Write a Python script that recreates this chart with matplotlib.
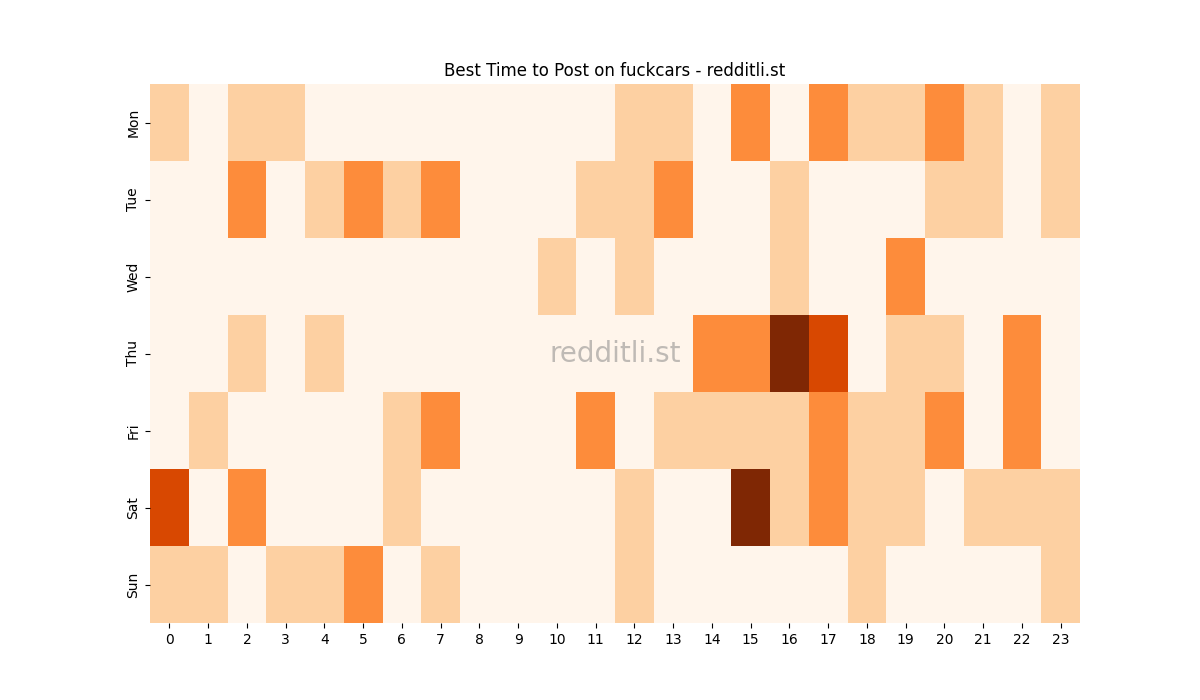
import matplotlib
matplotlib.use("Agg")
import matplotlib.pyplot as plt
import numpy as np

days = ["Mon", "Tue", "Wed", "Thu", "Fri", "Sat", "Sun"]
hours = [str(h) for h in range(24)]
mon = [1,0,1,1,0,0,0,0,0,0,0,0,1,1,0,2,0,2,1,1,2,1,0,1]
tue = [0,0,2,0,1,2,1,2,0,0,0,1,1,2,0,0,1,0,0,0,1,1,0,1]
wed = [0,0,0,0,0,0,0,0,0,0,1,0,1,0,0,0,1,0,0,2,0,0,0,0]
thu = [0,0,1,0,1,0,0,0,0,0,0,0,0,0,2,2,4,3,0,1,1,0,2,0]
fri = [0,1,0,0,0,0,1,2,0,0,0,2,0,1,1,1,1,2,1,1,2,0,2,0]
sat = [3,0,2,0,0,0,1,0,0,0,0,0,1,0,0,4,1,2,1,1,0,1,1,1]
sun = [1,1,0,1,1,2,0,1,0,0,0,0,1,0,0,0,0,0,1,0,0,0,0,1]
data = np.array([mon, tue, wed, thu, fri, sat, sun])

fig, ax = plt.subplots(figsize=(12, 7), dpi=100)
ax.pcolormesh(data, cmap="Oranges", vmin=0, vmax=4)
ax.set_xlim(0, 24)
ax.set_ylim(7, 0)
ax.set_xticks(np.arange(24) + 0.5)
ax.set_xticklabels(hours)
ax.set_yticks(np.arange(7) + 0.5)
ax.set_yticklabels(days, rotation=90, va="center")
for s in ax.spines.values():
    s.set_visible(False)
ax.set_title("Best Time to Post on fuckcars - redditli.st")
ax.text(0.5, 0.5, "redditli.st", transform=ax.transAxes, ha="center", va="center",
        fontsize=20, color="gray", alpha=0.5)
fig.savefig("out.png")
